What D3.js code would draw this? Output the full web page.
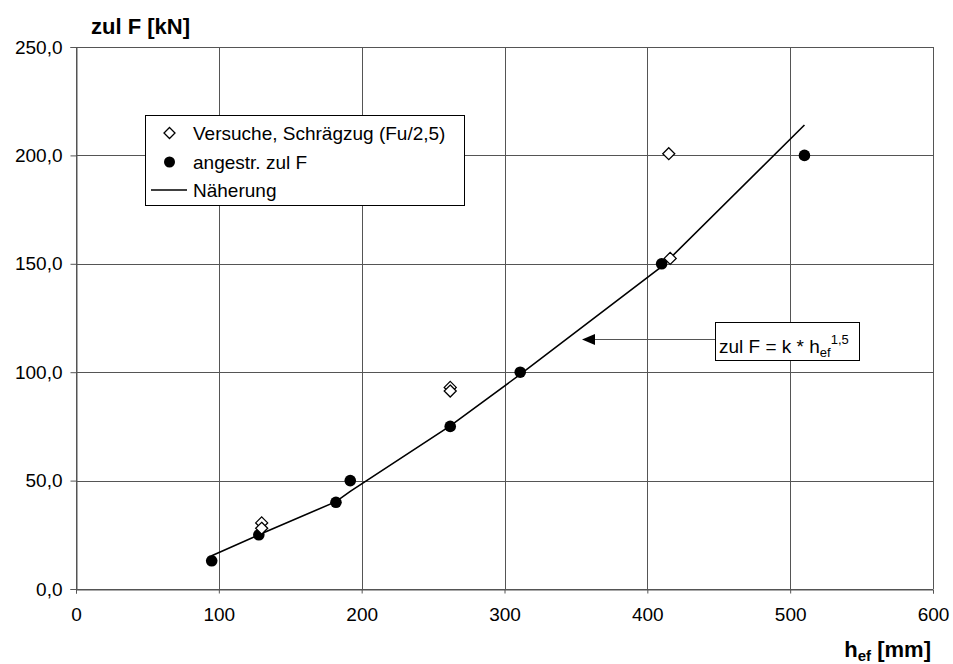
<!DOCTYPE html>
<html>
<head>
<meta charset="utf-8">
<script src="https://cdn.jsdelivr.net/npm/d3@7"></script>
<style>
  html, body { margin: 0; padding: 0; background: #fff; }
  svg { display: block; font-family: "Liberation Sans", Arial, sans-serif; }
</style>
</head>
<body>
<svg id="chart" width="953" height="664"></svg>
<script>
// ---- data ----
const xTicks = [0, 100, 200, 300, 400, 500, 600];
const yTicks = [0, 50, 100, 150, 200, 250];

const versucheH = [130, 130, 262, 262, 415, 416];
const versucheF = [30.5, 28, 93, 91.3, 200.8, 152.5];

const angestrH = [95, 128, 182, 192, 262, 311, 410, 510];
const angestrF = [13, 25, 40, 50, 75, 100, 150, 200];

const naeherungH = [95, 128, 182, 192, 262, 311, 410, 510];
const naeherungF = [15.3, 25, 40.3, 45, 75.2, 99, 148.7, 214];

const legendLabels = ["Versuche, Schrägzug (Fu/2,5)", "angestr. zul F", "Näherung"];

// ---- layout ----
const svg = d3.select("#chart");
const x = d3.scaleLinear().domain([0, 600]).range([76, 933]);
const y = d3.scaleLinear().domain([0, 250]).range([589, 47]);
const gridColor = "#555";

// gridlines
svg.append("g").selectAll("line.v").data(xTicks).join("line")
  .attr("x1", d => Math.round(x(d)) + 0.5).attr("x2", d => Math.round(x(d)) + 0.5)
  .attr("y1", y(250)).attr("y2", y(0))
  .attr("stroke", gridColor).attr("stroke-width", 1);
svg.append("g").selectAll("line.h").data(yTicks).join("line")
  .attr("y1", d => Math.round(y(d)) + 0.5).attr("y2", d => Math.round(y(d)) + 0.5)
  .attr("x1", x(0)).attr("x2", x(600))
  .attr("stroke", gridColor).attr("stroke-width", 1);

// axes
const fmt = d => d3.format(".1f")(d).replace(".", ",");
const yAxis = d3.axisLeft(y).tickValues(yTicks).tickSize(6).tickPadding(8).tickFormat(fmt);
const xAxis = d3.axisBottom(x).tickValues(xTicks).tickSize(4).tickPadding(14).tickFormat(d3.format("d"));

const gy = svg.append("g").attr("transform", `translate(${Math.round(x(0)) + 0.5},0)`).call(yAxis);
const gx = svg.append("g").attr("transform", `translate(0,${Math.round(y(0)) + 0.5})`).call(xAxis);
[gx, gy].forEach(g => {
  g.select(".domain").attr("stroke", gridColor);
  g.selectAll(".tick line").attr("stroke", gridColor);
  g.selectAll(".tick text").attr("fill", "#000").style("font-size", "19px")
    .style("font-family", "'Liberation Sans', Arial, sans-serif");
});

// axis titles
svg.append("text").attr("x", 91).attr("y", 34)
  .style("font-size", "22px").style("font-weight", "bold").text("zul F [kN]");
const xt = svg.append("text").attr("x", 931).attr("y", 657).attr("text-anchor", "end")
  .style("font-size", "22px").style("font-weight", "bold");
xt.append("tspan").text("h");
xt.append("tspan").attr("dy", 4).style("font-size", "15px").text("ef");
xt.append("tspan").attr("dy", -4).text(" [mm]");

// Näherung line
const line = d3.line().x((d, i) => x(naeherungH[i])).y(d => y(d));
svg.append("path").datum(naeherungF).attr("d", line)
  .attr("fill", "none").attr("stroke", "#000").attr("stroke-width", 1.6);

// angestr. zul F: filled circles
svg.append("g").selectAll("circle").data(angestrF).join("circle")
  .attr("cx", (d, i) => x(angestrH[i])).attr("cy", d => y(d)).attr("r", 5.8)
  .attr("fill", "#000");

// Versuche: open diamonds
const diamond = (cx, cy, s) => `M${cx},${cy - s}L${cx + s},${cy}L${cx},${cy + s}L${cx - s},${cy}Z`;
svg.append("g").selectAll("path").data(versucheF).join("path")
  .attr("d", (d, i) => diamond(x(versucheH[i]), y(d), 6))
  .attr("fill", "#fff").attr("stroke", "#000").attr("stroke-width", 1.3);

// legend
const lg = svg.append("g");
lg.append("rect").attr("x", 145.5).attr("y", 115.5).attr("width", 319).attr("height", 90)
  .attr("fill", "#fff").attr("stroke", "#000").attr("stroke-width", 1);
const rowY = [133, 162, 190];
lg.append("path").attr("d", diamond(169.5, rowY[0], 5.5))
  .attr("fill", "#fff").attr("stroke", "#000").attr("stroke-width", 1.3);
lg.append("circle").attr("cx", 169.5).attr("cy", rowY[1]).attr("r", 5.5).attr("fill", "#000");
lg.append("line").attr("x1", 151).attr("x2", 187).attr("y1", rowY[2]).attr("y2", rowY[2])
  .attr("stroke", "#000").attr("stroke-width", 1.6);
lg.selectAll("text").data(legendLabels).join("text")
  .attr("x", 193).attr("y", (d, i) => rowY[i]).attr("dy", "0.35em")
  .style("font-size", "19px").text(d => d);

// annotation arrow + formula box
const ay = 339.5;
svg.append("line").attr("x1", 594).attr("x2", 715).attr("y1", ay).attr("y2", ay)
  .attr("stroke", gridColor).attr("stroke-width", 1.2);
svg.append("path").attr("d", `M582,${ay}L595,${ay - 5.5}L595,${ay + 5.5}Z`).attr("fill", "#000");
svg.append("rect").attr("x", 715.5).attr("y", 322.5).attr("width", 144).attr("height", 38)
  .attr("fill", "#fff").attr("stroke", "#000").attr("stroke-width", 1);
const ft = svg.append("text").attr("x", 719).attr("y", 353).style("font-size", "19px");
ft.append("tspan").text("zul F = k * h");
ft.append("tspan").attr("dy", 4).style("font-size", "13px").text("ef");
ft.append("tspan").attr("dy", -13).style("font-size", "13px").text("1,5");
</script>
</body>
</html>
